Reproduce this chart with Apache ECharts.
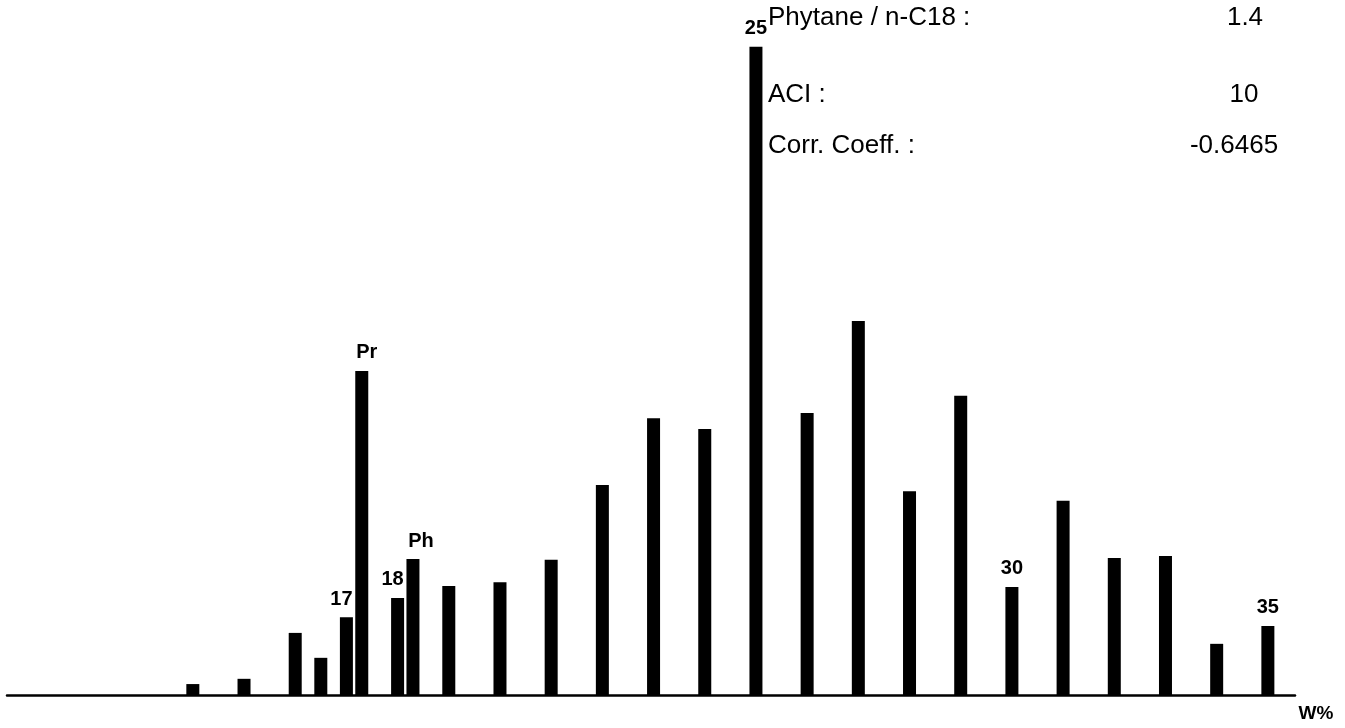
<!DOCTYPE html>
<html>
<head>
<meta charset="utf-8">
<script src="https://cdn.jsdelivr.net/npm/echarts@6/dist/echarts.min.js"></script>
<style>
html,body{margin:0;padding:0;background:#ffffff;}
#chart{width:1345px;height:728px;}
</style>
</head>
<body>
<div id="chart"></div>
<script>
// Carbon-number positions of the peaks (Pr and Ph sit just after n-C17 / n-C18)
const positions = [14, 15, 16, 16.5, 17, 17.3, 18, 18.3, 19, 20, 21, 22, 23, 24, 25, 26, 27, 28, 29, 30, 31, 32, 33, 34, 35];
// Relative abundance, W%
const values = [0.25, 0.37, 1.42, 0.85, 1.78, 7.41, 2.22, 3.11, 2.49, 2.58, 3.09, 4.80, 6.33, 6.08, 14.82, 6.45, 8.55, 4.66, 6.84, 2.47, 4.44, 3.13, 3.18, 1.17, 1.58];
// Peak labels ('' = unlabelled)
const peakLabels = ['', '', '', '', '17', 'Pr', '18', 'Ph', '', '', '', '', '', '', '25', '', '', '', '', '30', '', '', '', '', '35'];
// Ratio box
const statNames = ['Phytane / n-C18 :', 'ACI :', 'Corr. Coeff. :'];
const statValues = ['1.4', '10', '-0.6465'];
const unitLabel = 'W%';

const labelShift = { '17': -5, '18': -5, 'Pr': 5, 'Ph': 8 };

const chart = echarts.init(document.getElementById('chart'), null, { renderer: 'canvas' });

const seriesData = positions.map((p, i) => {
  const item = { value: [p, values[i]] };
  if (peakLabels[i]) {
    item.label = {
      show: true,
      position: 'top',
      distance: 8,
      formatter: peakLabels[i],
      offset: [labelShift[peakLabels[i]] || 0, 0],
      color: '#000',
      fontFamily: 'Liberation Sans, Arial, sans-serif',
      fontSize: 20,
      fontWeight: 'bold'
    };
  }
  return item;
});

const statRowsY = [18, 95, 146];
const graphics = [];
statNames.forEach((n, i) => {
  graphics.push({
    type: 'text', x: 768, y: statRowsY[i], silent: true,
    style: { text: n, fill: '#000', font: '26px "Liberation Sans", Arial, sans-serif', align: 'left', verticalAlign: 'middle' }
  });
});
const valueX = [1245, 1244, 1234];
statValues.forEach((v, i) => {
  graphics.push({
    type: 'text', x: valueX[i], y: statRowsY[i], silent: true,
    style: { text: v, fill: '#000', font: '26px "Liberation Sans", Arial, sans-serif', align: 'center', verticalAlign: 'middle' }
  });
});
graphics.push({
  type: 'text', x: 1316, y: 714, silent: true,
  style: { text: unitLabel, fill: '#000', font: 'bold 19px "Liberation Sans", Arial, sans-serif', align: 'center', verticalAlign: 'middle' }
});

chart.setOption({
  animation: false,
  backgroundColor: '#ffffff',
  grid: { left: 7, right: 50, top: 39, bottom: 33, containLabel: false },
  xAxis: {
    type: 'value',
    min: 10.37,
    max: 35.53,
    axisLine: { show: true, lineStyle: { color: '#000', width: 2.5 } },
    axisTick: { show: false },
    axisLabel: { show: false },
    splitLine: { show: false }
  },
  yAxis: {
    type: 'value',
    min: 0,
    max: 15,
    show: false,
    splitLine: { show: false }
  },
  series: [{
    type: 'bar',
    barWidth: 13,
    itemStyle: { color: '#000' },
    data: seriesData
  }],
  graphic: graphics
});
</script>
</body>
</html>
